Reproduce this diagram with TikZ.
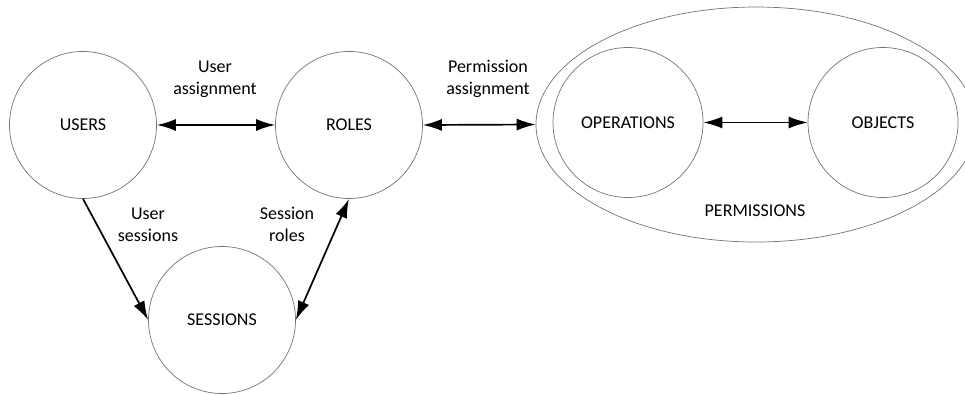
\documentclass[tikz,border=0pt]{standalone}
\usepackage{fontspec}
\setmainfont{Carlito}
\usetikzlibrary{arrows.meta,shapes.geometric}
\begin{document}
\begin{tikzpicture}[x=1pt,y=-1pt,
  ent/.style={circle,draw=black!55,line width=0.7pt,inner sep=0pt,minimum size=147pt,font=\fontsize{18}{22}\selectfont},
  lbl/.style={align=center,font=\fontsize{18}{22}\selectfont,inner sep=0pt},
  conn/.style={line width=1.7pt,{Latex[length=19pt,width=12pt]}-{Latex[length=19pt,width=12pt]}},
  oneway/.style={line width=1.7pt,-{Latex[length=19pt,width=12pt]}}]
\useasboundingbox (0,0) rectangle (965,394);
\clip (0,0) rectangle (965,394);
\node[ent] (users) at (83,125) {USERS};
\node[ent] (roles) at (349,125) {ROLES};
\node[ent] (sessions) at (222,320) {SESSIONS};
\node[ellipse,draw=black!55,line width=0.7pt,inner sep=0pt,minimum width=440pt,minimum height=235pt] (perm) at (756,124.5) {};
\node[ent,minimum size=150pt] (ops) at (628,122.5) {OPERATIONS};
\node[ent,minimum size=150pt] (objs) at (883,122.5) {OBJECTS};
\node[lbl] (permlbl) at (755,211) {PERMISSIONS};
\node[lbl] (ua) at (215,79) {User\\assignment};
\node[lbl] (pa) at (488,79) {Permission\\assignment};
\node[lbl] (us) at (148,225) {User\\sessions};
\node[lbl] (sr) at (287,224) {Session\\roles};
\draw[conn] (users) -- (roles);
\draw[conn] (roles.east) -- (perm.west);
\draw[conn] (ops) -- (objs);
\draw[oneway] (users.south) -- (sessions.west);
\draw[conn] (sessions.east) -- (roles.south);
\end{tikzpicture}
\end{document}
